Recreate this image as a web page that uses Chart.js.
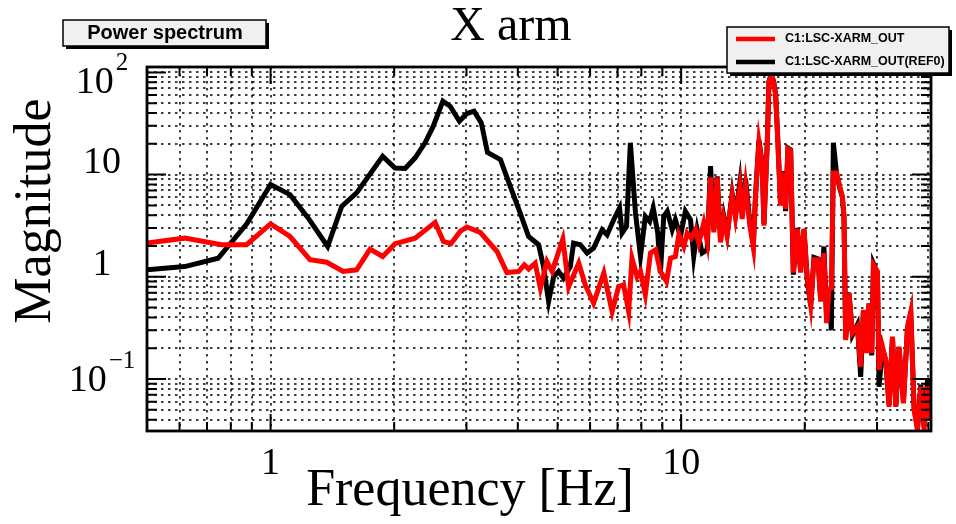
<!DOCTYPE html>
<html>
<head>
<meta charset="UTF-8">
<title>X arm</title>
<script src="https://cdn.jsdelivr.net/npm/chart.js"></script>
<style>
  html, body { margin: 0; padding: 0; background: #fff; }
  #wrap { width: 956px; height: 524px; }
</style>
</head>
<body>
<div id="wrap"><canvas id="spec"></canvas></div>
<script>
// values
const seriesNames = ['C1:LSC-XARM_OUT', 'C1:LSC-XARM_OUT(REF0)'];

const outFreq = [
  0.5, 0.618, 0.76, 0.874, 1.0, 1.115, 1.247, 1.37, 1.503, 1.62,
  1.747, 1.875, 2.01, 2.066, 2.249, 2.516, 2.636, 2.75, 2.896, 3.006,
  3.24, 3.56, 3.763, 4.02, 4.15, 4.25, 4.41, 4.54, 4.71, 4.85,
  5.15, 5.32, 5.63, 5.84, 6.12, 6.48, 6.79, 7.04, 7.24, 7.45,
  7.59, 7.81, 7.96, 8.18, 8.42, 8.66, 8.90, 9.21, 9.42, 9.68,
  9.87, 10.15, 10.34, 10.58, 10.84, 11.04, 11.35, 11.57, 11.79, 12.01,
  12.24, 12.47, 12.70, 12.94, 13.31, 13.56, 13.90, 14.08, 14.35, 14.70,
  14.99, 15.18, 15.47, 15.76, 15.91, 16.21, 16.36, 16.56, 16.80, 16.98,
  17.20, 17.46, 17.73, 17.96, 18.20, 18.48, 18.76, 19.19, 19.54, 19.91,
  20.29, 20.68, 21.06, 21.54, 21.87, 22.27, 22.62, 22.91, 23.22, 23.48,
  23.92, 24.37, 24.70, 24.92, 25.16, 25.63, 26.13, 26.87, 27.37, 27.79,
  28.31, 28.68, 29.12, 29.40, 30.06, 30.34, 30.92, 31.50, 32.09, 32.71,
  33.33, 33.94, 34.79, 35.58, 36.25, 36.93, 37.64, 38.35, 39.06, 39.81,
  40.55
];
const outMag = [
  2.14, 2.39, 2.06, 2.06, 3.29, 2.48, 1.47, 1.39, 1.13, 1.17,
  1.87, 1.58, 2.11, 2.17, 2.39, 3.41, 2.22, 2.11, 2.78, 3.07,
  2.72, 1.77, 1.10, 1.13, 1.31, 1.19, 1.36, 0.775, 1.41, 1.13,
  2.34, 0.80, 1.36, 0.835, 0.552, 1.09, 0.457, 0.80, 0.835, 0.457,
  1.52, 1.0, 1.13, 0.667, 1.71, 1.84, 1.13, 0.90, 1.52, 1.58,
  2.58, 1.98, 2.68, 2.39, 2.89, 2.14, 3.36, 2.22, 9.41, 2.72,
  9.41, 2.17, 3.68, 2.52, 6.22, 3.81, 7.51, 3.68, 7.80, 3.16,
  1.94, 6.22, 20.7, 12.25, 3.16, 20.7, 80, 93, 80, 61.8,
  20.7, 4.97, 10.5, 4.61, 17.9, 17.2, 1.10, 2.94, 1.10, 2.94,
  0.95, 0.531, 1.47, 1.47, 0.573, 1.71, 0.352, 0.746, 0.775, 10.4,
  10.4, 7.5, 6.1, 4.0, 0.241, 0.692, 0.281, 0.326, 0.132, 0.475,
  0.179, 0.552, 0.179, 1.31, 1.13, 0.1225, 0.207, 0.154, 0.0535, 0.26,
  0.0535, 0.207, 0.0578, 0.326, 0.457, 0.0497, 0.0316, 0.084, 0.0316, 0.084,
  0.0396
];

const refFreq = [
  0.5, 0.618, 0.745, 0.875, 1.0, 1.115, 1.233, 1.377, 1.49, 1.62,
  1.875, 2.01, 2.127, 2.249, 2.378, 2.49, 2.628, 2.737, 2.884, 3.006,
  3.13, 3.26, 3.375, 3.63, 3.835, 4.055, 4.25, 4.495, 4.62, 4.755,
  4.89, 5.03, 5.17, 5.37, 5.47, 5.68, 5.90, 6.12, 6.42, 6.60,
  6.85, 7.08, 7.18, 7.36, 7.52, 7.74, 7.96, 8.18, 8.38, 8.55,
  8.77, 8.90, 9.07, 9.25, 9.51, 9.68, 9.96, 10.24, 10.54, 10.73,
  10.94, 11.25, 11.57, 11.79, 12.01, 12.24, 12.47, 12.70, 12.94, 13.31,
  13.56, 13.90, 14.08, 14.35, 14.70, 14.99, 15.18, 15.47, 15.76, 15.91,
  16.21, 16.36, 16.56, 16.80, 16.98, 17.20, 17.46, 17.73, 17.96, 18.20,
  18.48, 18.76, 19.19, 19.54, 19.91, 20.29, 20.68, 21.06, 21.54, 21.87,
  22.27, 22.62, 22.91, 23.22, 23.48, 23.92, 24.37, 24.70, 24.92, 25.16,
  25.63, 26.13, 26.87, 27.37, 27.79, 28.31, 28.68, 29.12, 29.40, 30.06,
  30.34, 30.92, 31.50, 32.09, 32.71, 33.33, 33.94, 34.79, 35.58, 36.25,
  36.93, 37.64, 38.35, 39.06, 39.81, 40.55
];
const refMag = [
  1.17, 1.26, 1.52, 3.3, 8.0, 6.37, 3.79, 1.98, 4.89, 6.62,
  15.1, 11.6, 11.5, 14.6, 20.5, 29.8, 52.3, 46.7, 33.3, 39.6,
  41.8, 32.1, 16.5, 14.0, 7.68, 4.21, 2.48, 2.06, 1.26, 0.573,
  1.0, 1.13, 0.97, 1.26, 2.14, 2.06, 1.71, 1.91, 2.89, 2.58,
  3.62, 4.72, 2.68, 3.11, 20.5, 4.21, 1.58, 3.90, 3.48, 4.72,
  2.68, 1.09, 3.90, 4.37, 2.89, 3.62, 2.48, 4.37, 3.62, 1.58,
  2.89, 1.71, 1.84, 12.1, 2.9, 9.6, 2.3, 3.9, 2.6, 6.5,
  4.0, 8.4, 4.2, 9.1, 3.4, 2.1, 6.5, 21.9, 12.6, 3.3,
  21, 82, 95, 82, 62, 21.5, 5.2, 10.8, 4.4, 18.2,
  17.5, 1.05, 3.0, 1.15, 2.9, 0.92, 0.52, 1.55, 1.5, 0.6,
  1.98, 0.36, 0.72, 0.30, 20.5, 10.0, 7.2, 6.0, 3.8, 0.25,
  0.70, 0.27, 0.34, 0.105, 0.46, 0.185, 0.54, 0.17, 1.35, 1.10,
  0.084, 0.20, 0.15, 0.056, 0.25, 0.055, 0.20, 0.06, 0.31, 0.44,
  0.052, 0.033, 0.088, 0.034, 0.098, 0.045
];

const xGridVals = [0.5, 0.6, 0.7, 0.8, 0.9, 1, 2, 3, 4, 5, 6, 7, 8, 9, 10, 20, 30, 40];
const xLabelVals = [1, 10];
const yGridVals = [0.04, 0.05, 0.06, 0.07, 0.08, 0.09, 0.1, 0.2, 0.3, 0.4, 0.5, 0.6, 0.7, 0.8, 0.9,
  1, 2, 3, 4, 5, 6, 7, 8, 9, 10, 20, 30, 40, 50, 60, 70, 80, 90, 100];
const yLabelVals = [0.1, 1, 10, 100];
const yLabelBase = ['10', '1', '10', '10'];
const yLabelExp = ['\u22121', '', '', '2'];

const SERIF = '"Liberation Serif", "DejaVu Serif", serif';
const SANS = '"Liberation Sans", Arial, sans-serif';

function pts(fs, ms) { return fs.map((f, i) => ({ x: f, y: ms[i] })); }
function isDecade(v) { const l = Math.log10(v); return Math.abs(l - Math.round(l)) < 1e-6; }

function shadowBox(ctx, x, y, w, h) {
  ctx.fillStyle = '#000';
  ctx.fillRect(x + 3, y + 3, w, h);
  ctx.fillStyle = '#f0f0f0';
  ctx.fillRect(x, y, w, h);
  ctx.lineWidth = 1.5;
  ctx.strokeStyle = '#000';
  ctx.strokeRect(x, y, w, h);
}

const decor = {
  id: 'decor',
  beforeDatasetsDraw(chart) {
    const { ctx, chartArea: a, scales: { x, y } } = chart;
    ctx.save();
    ctx.strokeStyle = '#000';
    ctx.lineWidth = 1.5;
    ctx.setLineDash([2.5, 4.5]);
    xGridVals.forEach(v => {
      const px = Math.round(x.getPixelForValue(v));
      ctx.beginPath(); ctx.moveTo(px, a.top); ctx.lineTo(px, a.bottom); ctx.stroke();
    });
    yGridVals.forEach(v => {
      const py = Math.round(y.getPixelForValue(v));
      ctx.beginPath(); ctx.moveTo(a.left, py); ctx.lineTo(a.right, py); ctx.stroke();
    });
    ctx.restore();
  },
  afterDatasetsDraw(chart) {
    const { ctx, chartArea: a, scales: { x, y } } = chart;
    ctx.save();
    // tick marks inside the frame
    ctx.strokeStyle = '#000';
    ctx.lineWidth = 2;
    xGridVals.forEach(v => {
      const px = x.getPixelForValue(v);
      const len = isDecade(v) ? 17 : 9;
      ctx.beginPath();
      ctx.moveTo(px, a.bottom); ctx.lineTo(px, a.bottom - len);
      ctx.moveTo(px, a.top); ctx.lineTo(px, a.top + len);
      ctx.stroke();
    });
    yGridVals.forEach(v => {
      const py = y.getPixelForValue(v);
      const len = isDecade(v) ? 19 : 10;
      ctx.beginPath();
      ctx.moveTo(a.left, py); ctx.lineTo(a.left + len, py);
      ctx.moveTo(a.right, py); ctx.lineTo(a.right - len, py);
      ctx.stroke();
    });
    ctx.lineWidth = 2.8;
    ctx.strokeRect(a.left, a.top, a.right - a.left, a.bottom - a.top);

    // y tick labels with superscript exponents
    ctx.fillStyle = '#000';
    ctx.textBaseline = 'middle';
    ctx.textAlign = 'left';
    yLabelVals.forEach((v, i) => {
      const base = yLabelBase[i], exp = yLabelExp[i];
      ctx.font = '38px ' + SERIF;
      const wb = ctx.measureText(base).width;
      ctx.font = '25px ' + SERIF;
      const we = exp ? ctx.measureText(exp).width + 2 : 0;
      const x0 = 102 - (wb + we) / 2;
      const py = y.getPixelForValue(v);
      const yb = exp ? (v > 1 ? py + 11 : py + 2) : py - 12;
      ctx.font = '38px ' + SERIF;
      ctx.fillText(base, x0, yb);
      if (exp) {
        ctx.font = '25px ' + SERIF;
        ctx.fillText(exp, x0 + wb + 2, yb - 20);
      }
    });

    // axis titles and chart title
    ctx.textAlign = 'center';
    ctx.textBaseline = 'alphabetic';
    ctx.font = '52px ' + SERIF;
    ctx.fillText('Frequency [Hz]', 470, 505);
    ctx.save();
    ctx.translate(50, 211);
    ctx.rotate(-Math.PI / 2);
    ctx.fillText('Magnitude', 0, 0);
    ctx.restore();
    ctx.font = '48px ' + SERIF;
    ctx.fillText('X arm', 511, 40);

    // "Power spectrum" tab
    shadowBox(ctx, 63, 20, 203, 26);
    ctx.fillStyle = '#000';
    ctx.font = 'bold 20px ' + SANS;
    ctx.textBaseline = 'middle';
    ctx.fillText('Power spectrum', 165, 33);

    // legend
    shadowBox(ctx, 727, 27, 222, 46);
    ctx.setLineDash([]);
    ctx.textAlign = 'left';
    ctx.font = 'bold 12.5px ' + SANS;
    chart.data.datasets.forEach((ds, i) => {
      const ly = 39 + i * 23;
      ctx.strokeStyle = ds.borderColor;
      ctx.lineWidth = 4.5;
      ctx.beginPath(); ctx.moveTo(736, ly); ctx.lineTo(775, ly); ctx.stroke();
      ctx.fillStyle = '#000';
      ctx.fillText(ds.label, 785, ly);
    });
    ctx.restore();
  }
};

new Chart(document.getElementById('spec'), {
  type: 'line',
  data: {
    datasets: [
      { label: seriesNames[0], data: pts(outFreq, outMag), borderColor: '#ff0000', borderWidth: 5, pointRadius: 0, tension: 0 },
      { label: seriesNames[1], data: pts(refFreq, refMag), borderColor: '#000000', borderWidth: 5, pointRadius: 0, tension: 0 }
    ]
  },
  options: {
    responsive: true,
    maintainAspectRatio: false,
    animation: false,
    layout: { padding: { top: 67, right: 25, left: 0, bottom: 0 } },
    plugins: { legend: { display: false }, tooltip: { enabled: false } },
    scales: {
      x: {
        type: 'logarithmic',
        min: 0.5,
        max: 40.6,
        grid: { display: false, drawTicks: false },
        border: { display: false },
        afterBuildTicks: s => { s.ticks = xGridVals.map(v => ({ value: v })); },
        afterFit: s => { s.height = 93; },
        ticks: {
          autoSkip: false,
          maxRotation: 0,
          padding: 14,
          color: '#000',
          font: { family: SERIF, size: 38, lineHeight: 1 },
          callback: v => (xLabelVals.includes(v) ? String(v) : '')
        }
      },
      y: {
        type: 'logarithmic',
        min: 0.031,
        max: 113,
        grid: { display: false, drawTicks: false },
        border: { display: false },
        afterBuildTicks: s => { s.ticks = yGridVals.map(v => ({ value: v })); },
        afterFit: s => { s.width = 147; },
        ticks: { display: false }
      }
    }
  },
  plugins: [decor]
});
</script>
</body>
</html>
